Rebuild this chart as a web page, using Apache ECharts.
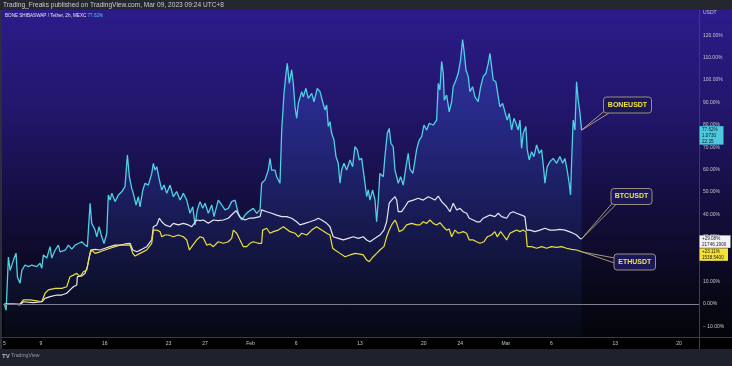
<!DOCTYPE html>
<html><head><meta charset="utf-8">
<script src="https://cdn.jsdelivr.net/npm/echarts@6/dist/echarts.min.js"></script>
<style>html,body{margin:0;padding:0;background:#000}#c{width:732px;height:366px}</style>
</head><body><div id="c"></div>
<script>
// x values are days since Jan 5 2023 00:00, y values are % change
const xTickDays = [0, 4, 11, 18, 22, 27, 32, 39, 46, 50, 55, 60, 67, 74];
const xTickLabels = ['5', '9', '16', '23', '27', 'Feb', '6', '13', '20', '24', 'Mar', '6', '13', '20'];
const yTickValues = [-10, 0, 10, 20, 30, 40, 50, 60, 70, 80, 90, 100, 110, 120];
const yTopLabelValue = 130;
const yTopLabel = 'USDT';
const seriesNames = ['BONEUSDT', 'BTCUSDT', 'ETHUSDT'];
const headerSymbol = 'BONE SHIBASWAP / Tether, 2h, MEXC';
const headerValue = '77.62%';
const publishText = 'Trading_Freaks published on TradingView.com, Mar 09, 2023 09:24 UTC+8';
const priceLabels = [['77.62%', '1.0730', '22:35'], ['+29.08%', '21746.1900'], ['+23.11%', '1538.5400']];

const bone = [[0,0],[0.19,-2.8],[0.44,21],[0.63,15],[0.99,19.6],[1.28,22.7],[1.43,12],[1.72,9.3],[1.91,15],[2.27,17.4],[2.63,16.7],[3.0,17.4],[3.55,16.7],[3.91,18.2],[4.10,16],[4.28,21.9],[4.65,20.5],[5.01,25.6],[5.20,20.5],[5.56,24],[5.92,26.3],[6.11,23.3],[6.66,24],[7.02,26.3],[7.39,24.5],[7.75,26.3],[8.11,27],[8.49,27.8],[8.85,26.3],[9.10,25.6],[9.40,45],[9.58,36],[9.95,33],[10.13,30],[10.38,34.5],[10.68,30],[10.93,27],[11.23,31.6],[11.40,48.7],[11.59,46.4],[11.78,49.4],[12.14,45.7],[12.50,48.7],[12.87,50.1],[13.23,52.4],[13.49,66.5],[13.71,56.8],[13.97,51.6],[14.14,49.4],[14.44,44.2],[14.69,47.9],[14.88,43.4],[15.18,50.9],[15.43,53.9],[15.79,53.1],[16.16,58.3],[16.34,62.8],[16.52,59.8],[16.71,61.3],[17.0,55.4],[17.26,50.9],[17.51,53.1],[17.81,49.4],[18.17,53.1],[18.53,47.9],[18.90,50.2],[19.27,46.4],[19.63,49.4],[20.0,46.4],[20.36,40.5],[20.66,43.4],[20.91,35.3],[21.16,42],[21.46,45.7],[21.75,42.7],[22.01,45],[22.37,40.5],[22.74,44.2],[22.99,39],[23.46,46.4],[23.84,44.2],[24.20,42],[24.56,42.7],[24.93,45.7],[25.30,46.4],[25.66,40.5],[26.03,37.5],[26.39,39.7],[26.75,41.2],[27.30,42.7],[27.68,40.5],[28.04,42],[28.22,53.9],[28.59,55.4],[28.95,59.8],[29.13,65],[29.32,59.8],[29.68,59.8],[29.87,56.8],[30.23,53.9],[30.42,77.7],[30.67,94],[30.89,103],[31.03,107.4],[31.25,98.5],[31.51,104.5],[31.69,98.5],[31.88,88],[32.06,82.9],[32.24,89.6],[32.61,94.8],[32.79,92.5],[33.08,96.3],[33.33,91.8],[33.71,94],[33.96,90.3],[34.32,96.3],[34.62,94.8],[34.91,90.3],[35.16,86.6],[35.35,88.8],[35.53,79.2],[35.71,81.4],[35.90,76.2],[36.15,73.2],[36.37,65.8],[36.62,62.8],[36.81,53.9],[36.99,59.8],[37.25,62.8],[37.54,59.8],[37.91,64.3],[38.20,61.3],[38.45,70.2],[38.71,68.8],[38.93,64.3],[39.19,65],[39.36,59.8],[39.55,53.9],[39.74,47.9],[39.91,50.9],[40.10,46.4],[40.39,50.9],[40.65,46.4],[40.83,36.7],[41.01,46.4],[41.19,58.3],[41.56,56.8],[41.74,65.8],[42.0,76.2],[42.21,78.4],[42.40,71.7],[42.65,70.2],[42.84,59.8],[43.03,56.8],[43.20,53.9],[43.46,56.8],[43.75,53.1],[44.05,61.3],[44.30,67.3],[44.48,60.2],[44.81,58.3],[45.22,69],[45.50,73.2],[45.77,74.7],[46.02,79.9],[46.32,77.7],[46.60,80.7],[47.04,79.9],[47.41,82.1],[47.59,98.5],[47.77,95.5],[47.96,108.2],[48.14,103],[48.25,91],[48.51,93.3],[48.79,85.8],[49.06,90.3],[49.23,97],[49.53,100],[49.78,103],[50.04,109],[50.26,118],[50.41,113.4],[50.63,104.5],[50.88,101.5],[51.06,94.8],[51.36,97],[51.61,92.5],[51.97,90.3],[52.24,97],[52.52,101.5],[52.82,103],[53.07,107.4],[53.26,111.9],[53.44,105.9],[53.62,100],[53.91,99.2],[54.17,92.5],[54.35,88],[54.65,89.6],[54.90,85.8],[55.15,82.1],[55.37,85.1],[55.64,77.7],[55.89,82.9],[56.11,80.7],[56.36,77.7],[56.55,82.1],[56.73,69.5],[56.91,76.2],[57.20,79.2],[57.35,68.8],[57.57,64.3],[57.83,68],[58.08,65.8],[58.38,71],[58.66,67.3],[58.93,68.8],[59.18,59.1],[59.29,53.9],[59.54,61.3],[59.84,63.5],[60.20,65],[60.57,62.8],[60.93,65.8],[61.23,62.8],[61.48,65],[61.73,59.8],[61.95,53.9],[62.10,48.7],[62.25,67.3],[62.39,82.1],[62.58,77.7],[62.76,99.2],[62.94,91],[63.12,85.8],[63.31,77.62]];

const btc = [[0,0],[0.99,0],[1.72,-0.4],[2.08,1],[3.18,0.6],[4.10,1],[4.46,2.5],[5.01,3.3],[5.75,4],[6.29,4],[6.84,4.8],[7.20,6.3],[7.57,7.7],[7.94,8.5],[8.0,12.2],[8.49,12.5],[8.85,13.7],[9.10,16.7],[9.32,21.1],[9.47,24.1],[9.95,24.4],[10.49,24.1],[11.04,24.9],[11.59,25.6],[12.14,26.3],[12.69,26.3],[13.23,26.8],[13.78,27.1],[14.08,24.1],[14.52,23.3],[15.07,24.4],[15.61,25.6],[16.16,28.6],[16.34,34.5],[16.71,35.3],[17.0,38.3],[17.26,36.7],[17.62,35.3],[18.17,34.5],[18.53,36],[19.08,35.3],[19.63,36],[20.18,35.3],[20.55,34.5],[21.10,37.5],[21.46,37.2],[21.82,37.5],[22.37,36],[22.92,37.5],[23.46,37.2],[24.01,37.5],[24.56,38.3],[25.11,40.5],[25.41,41.7],[25.84,38.7],[26.39,37.5],[26.86,38.3],[27.30,38.3],[28.04,39],[28.22,42],[28.77,41.2],[29.32,40.5],[29.87,39.7],[30.42,39],[30.96,39],[31.51,38.3],[32.06,36.7],[32.42,35.3],[32.97,36],[33.52,36.7],[34.07,37.5],[34.43,38.3],[34.80,37.5],[35.35,36],[35.71,34.5],[36.07,30],[36.62,29.3],[37.17,28.6],[37.72,29.3],[38.27,30],[38.82,29.3],[39.36,30],[39.74,28.6],[40.10,27.8],[40.65,29.3],[41.19,30.8],[41.63,33],[41.93,36.7],[42.21,45],[42.48,46.4],[42.84,47.9],[43.03,46.4],[43.20,41.2],[43.57,41.2],[43.94,43.4],[44.30,45.7],[44.85,46.4],[45.39,47.2],[45.94,46.4],[46.49,47.9],[46.86,47.2],[47.22,46.4],[47.59,48.2],[47.96,45.7],[48.51,43.4],[48.87,41.2],[49.23,45],[49.61,42],[49.97,42.7],[50.33,41.2],[50.70,40.5],[50.99,38.3],[51.43,37.5],[51.80,36.7],[52.16,36.7],[52.52,38.3],[52.90,39],[53.26,39.7],[53.80,39],[54.17,40.5],[54.54,39],[55.09,38.3],[55.45,40.5],[55.81,41.2],[56.18,40.5],[56.73,39.7],[57.09,39],[57.28,33],[57.64,33],[58.19,32.3],[58.74,33],[59.29,33.8],[59.84,33],[60.39,33],[60.93,33.3],[61.48,33],[61.95,32.3],[62.39,31.6],[62.76,30.8],[63.12,29.3],[63.31,29.08]];

const eth = [[0,0],[0.99,0],[1.72,0],[2.08,1.8],[2.82,1.8],[3.55,1.4],[4.10,1],[4.46,4.8],[4.82,6.3],[5.56,7],[6.29,7],[6.84,7.7],[7.20,12.2],[7.57,12.9],[7.94,13.7],[8.11,14.4],[8.30,12.2],[8.66,14.4],[9.04,15.2],[9.21,18.9],[9.40,22.6],[9.58,24.1],[9.95,22.6],[10.49,23.3],[11.04,24.1],[11.59,24.9],[12.14,25.6],[12.69,26.3],[13.23,26.3],[13.78,26.3],[14.08,22.6],[14.33,21.4],[14.88,22.6],[15.61,24.1],[16.16,27.1],[16.34,33],[16.71,33],[17.07,32.3],[17.26,30],[17.62,30.8],[17.98,30.8],[18.53,30],[19.08,30.8],[19.63,30],[20.0,28.6],[20.29,24.1],[20.55,25.6],[21.10,28.6],[21.46,30],[21.82,29.5],[22.19,26.3],[22.55,26.8],[22.92,25.6],[23.46,27.8],[24.01,27.1],[24.56,27.8],[24.93,29.3],[25.11,33],[25.48,31.6],[25.84,28.6],[26.21,25.6],[26.58,25.6],[26.94,27.1],[27.30,27.8],[27.85,27.1],[28.22,27.1],[28.33,33],[28.77,33.8],[29.13,31.6],[29.50,32.3],[30.04,33],[30.60,34.5],[31.33,32.3],[31.88,31.6],[32.24,30],[32.61,31.6],[33.16,30.8],[33.71,33],[34.25,34.5],[34.80,33],[35.35,31.6],[35.71,30.8],[36.01,24.9],[36.26,24.1],[36.81,22.6],[37.36,21.1],[37.91,21.9],[38.45,22.6],[39.0,22.3],[39.36,21.9],[39.74,19.6],[40.02,18.9],[40.46,21.1],[40.83,22.6],[41.19,24.1],[41.63,25.6],[41.93,30],[42.21,33],[42.48,35.3],[42.84,37.5],[43.03,36],[43.31,32.3],[43.68,33],[44.12,35.3],[44.67,36],[45.22,35.3],[45.58,35.3],[45.94,36.7],[46.32,36],[46.68,37.5],[47.04,36],[47.41,35.3],[47.77,36.3],[48.14,34.5],[48.51,33],[48.79,33.5],[49.06,30],[49.42,33],[49.78,31.6],[50.33,32.3],[50.70,31.6],[50.99,28.6],[51.43,28.6],[51.80,27.8],[52.16,27.1],[52.60,27.8],[52.96,30],[53.44,30.8],[53.80,32.3],[54.06,30],[54.43,32.3],[54.71,30.8],[55.09,28.6],[55.45,31.6],[55.81,32.3],[56.18,33],[56.55,32.3],[56.91,33],[57.20,32.3],[57.35,25.6],[57.83,25.6],[58.38,24.9],[58.93,25.6],[59.47,24.9],[60.02,25.6],[60.57,25.3],[61.12,25.6],[61.66,24.9],[62.21,24.4],[62.76,24.1],[63.31,23.3]];

const FONT = '"Liberation Sans", Arial, sans-serif';
const COL_BONE = '#4fd0e3', COL_BTC = '#e6e6ef', COL_ETH = '#ece03a';
const chart = echarts.init(document.getElementById('c'), null, {renderer: 'canvas', width: 732, height: 366});

function near(a, b) { return Math.abs(a - b) < 1e-6; }

const option = {
  animation: false,
  backgroundColor: '#000',
  grid: {left: 3, right: 33, top: 10, height: 327.04},
  xAxis: {
    type: 'value', min: -0.125, max: 76.19, interval: 0.125,
    axisLine: {show: false}, axisTick: {show: false}, splitLine: {show: false},
    axisLabel: {
      color: '#c3c5cc', fontSize: 5, fontFamily: FONT, margin: 4,
      showMinLabel: true, showMaxLabel: true,
      formatter: function (v) {
        for (let i = 0; i < xTickDays.length; i++) if (near(v, xTickDays[i])) return xTickLabels[i];
        return '';
      }
    }
  },
  yAxis: {
    type: 'value', position: 'right', min: -14.75, max: 131.25, interval: 0.25,
    axisLine: {show: false}, axisTick: {show: false}, splitLine: {show: false},
    axisLabel: {
      color: '#c3c5cc', fontSize: 5, fontFamily: FONT, margin: 4,
      showMinLabel: true, showMaxLabel: true,
      formatter: function (v) {
        if (near(v, yTopLabelValue)) return yTopLabel;
        for (let i = 0; i < yTickValues.length; i++) {
          if (near(v, yTickValues[i])) {
            const t = Math.abs(v).toFixed(2) + '%';
            return v < 0 ? '\u2212 ' + t : t;
          }
        }
        return '';
      }
    }
  },
  series: [
    {
      name: seriesNames[0], type: 'line', data: bone, showSymbol: false, z: 3,
      lineStyle: {color: COL_BONE, width: 1.3},
      areaStyle: {
        origin: 'start',
        color: new echarts.graphic.LinearGradient(0, 0, 0, 1, [
          {offset: 0, color: 'rgba(55,95,215,0.5)'},
          {offset: 1, color: 'rgba(55,95,215,0.06)'}
        ])
      }
    },
    {
      name: seriesNames[1], type: 'line', data: btc, showSymbol: false, z: 4,
      lineStyle: {color: COL_BTC, width: 1.2},
      markLine: {
        silent: true, symbol: ['none', 'none'], label: {show: false},
        lineStyle: {color: '#7d808c', width: 1, type: 'solid'},
        data: [{yAxis: 0}]
      }
    },
    {
      name: seriesNames[2], type: 'line', data: eth, showSymbol: false, z: 4,
      lineStyle: {color: COL_ETH, width: 1.2}
    }
  ]
};
chart.setOption(option);

// decorations and annotations anchored at the last data points
const pBone = chart.convertToPixel({gridIndex: 0}, bone[bone.length - 1]);
const pBtc = chart.convertToPixel({gridIndex: 0}, btc[btc.length - 1]);
const pEth = chart.convertToPixel({gridIndex: 0}, eth[eth.length - 1]);

const g = [];
// pane background gradient
g.push({type: 'rect', z: -100, silent: true, shape: {x: 0, y: 10, width: 732, height: 327},
  style: {fill: new echarts.graphic.LinearGradient(0, 0, 0, 1, [
    {offset: 0, color: '#2c1b8a'}, {offset: 0.3, color: '#22166c'}, {offset: 0.6, color: '#130e3e'},
    {offset: 0.85, color: '#09081a'}, {offset: 1, color: '#040409'}])}});
// top bar, bottom bar, left strip
g.push({type: 'rect', z: 50, silent: true, shape: {x: 0, y: 0, width: 732, height: 10}, style: {fill: '#25272e'}});
g.push({type: 'rect', z: 50, silent: true, shape: {x: 0, y: 349, width: 732, height: 17}, style: {fill: '#1e222d'}});
g.push({type: 'rect', z: 50, silent: true, shape: {x: 0, y: 10, width: 2, height: 339}, style: {fill: '#2b2f3a'}});
// frame lines
g.push({type: 'line', z: 40, silent: true, shape: {x1: 0, y1: 337.5, x2: 732, y2: 337.5}, style: {stroke: '#7a1b3c', lineWidth: 1}});
g.push({type: 'line', z: 40, silent: true, shape: {x1: 699.5, y1: 10, x2: 699.5, y2: 349}, style: {stroke: '#7d2050', lineWidth: 1}});
// texts
g.push({type: 'text', z: 60, silent: true, x: 3, y: 5, style: {text: publishText, fill: '#c8cad2', font: '6.6px ' + FONT, textVerticalAlign: 'middle'}});
g.push({type: 'text', z: 60, silent: true, x: 5, y: 15.5, style: {text: headerSymbol, fill: '#e8e8f0', font: '4.6px ' + FONT, textVerticalAlign: 'middle'}});
g.push({type: 'text', z: 60, silent: true, x: 87.5, y: 15.5, style: {text: headerValue, fill: COL_BONE, font: '4.6px ' + FONT, textVerticalAlign: 'middle'}});
g.push({type: 'text', z: 60, silent: true, x: 2, y: 356, style: {text: 'TV', fill: '#b8bbc4', font: 'bold 6px ' + FONT, textVerticalAlign: 'middle'}});
g.push({type: 'text', z: 60, silent: true, x: 11, y: 356, style: {text: 'TradingView', fill: '#9a9da8', font: '5.2px ' + FONT, textVerticalAlign: 'middle'}});

// callouts
function callout(name, bx, by, bw, bh, a1, a2, anchor) {
  g.push({type: 'line', z: 70, silent: true, shape: {x1: anchor[0], y1: anchor[1], x2: a1[0], y2: a1[1]}, style: {stroke: '#cdbd8e', lineWidth: 0.8}});
  g.push({type: 'line', z: 70, silent: true, shape: {x1: anchor[0], y1: anchor[1], x2: a2[0], y2: a2[1]}, style: {stroke: '#cdbd8e', lineWidth: 0.8}});
  g.push({type: 'rect', z: 71, silent: true, shape: {x: bx, y: by, width: bw, height: bh, r: 3},
    style: {fill: '#1c1858', stroke: '#9a8f7c', lineWidth: 1}});
  g.push({type: 'text', z: 72, silent: true, x: bx + bw / 2, y: by + bh / 2,
    style: {text: name, fill: '#f2e442', font: 'bold 7px ' + FONT, textAlign: 'center', textVerticalAlign: 'middle'}});
}
callout(seriesNames[0], 603.5, 97, 48, 16, [605, 110.5], [609, 113], pBone);
callout(seriesNames[1], 611, 188.5, 41, 16, [612, 203.5], [616, 204.5], pBtc);
callout(seriesNames[2], 614, 254, 41.5, 16, [614.5, 258], [614.5, 263], pEth);

// price labels on the right scale
function priceBox(lines, top, color, textColor, w) {
  const h = lines.length * 6 + 0.5;
  g.push({type: 'rect', z: 80, silent: true, shape: {x: 699.5, y: top, width: w, height: h}, style: {fill: color}});
  lines.forEach(function (t, i) {
    g.push({type: 'text', z: 81, silent: true, x: 702, y: top + 3.2 + i * 6,
      style: {text: t, fill: textColor, font: '4.6px ' + FONT, textVerticalAlign: 'middle'}});
  });
  return top + h;
}
priceBox(priceLabels[0], pBone[1] - 4, '#4cc9dc', '#0d1b2a', 24);
const btcBottom = priceBox(priceLabels[1], pBtc[1] - 3.5, '#f2f2f6', '#1a1a22', 31);
priceBox(priceLabels[2], Math.max(pEth[1] - 3.5, btcBottom), '#f4e23a', '#1a1a10', 28.5);

chart.setOption({graphic: {elements: g}});
</script>
</body></html>
